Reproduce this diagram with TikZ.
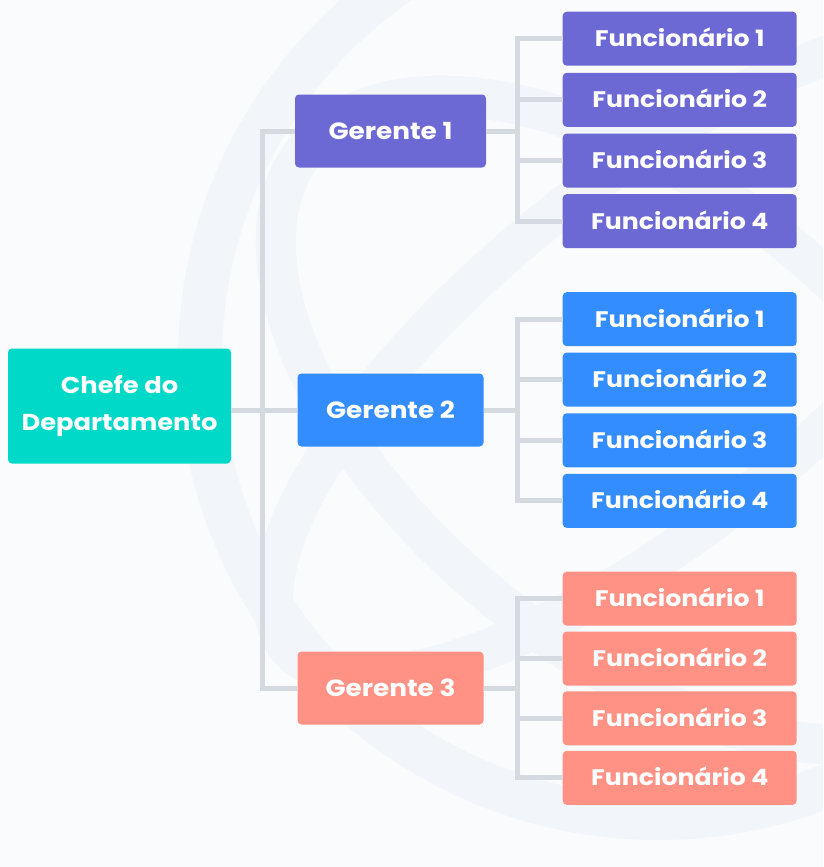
\documentclass[tikz,border=0pt]{standalone}
\usepackage{fontspec}
\setmainfont{Poppins}[FakeStretch=1.12]
\begin{document}
\begin{tikzpicture}[x=1pt,y=-1pt]
  % palette
  \definecolor{pagebg}{RGB}{250,251,253}
  \definecolor{emblem}{RGB}{242,245,250}
  \definecolor{wire}{RGB}{212,218,224}
  \definecolor{headcol}{RGB}{0,217,200}
  \definecolor{teamA}{RGB}{108,105,212}
  \definecolor{teamB}{RGB}{51,141,255}
  \definecolor{teamC}{RGB}{255,146,132}
  \tikzset{
    box/.style={rectangle, rounded corners=4pt, inner sep=0pt, text=white},
    headbox/.style={box, fill=headcol, minimum width=223pt, minimum height=115pt,
      align=center, font=\bfseries\fontsize{23}{36.7}\selectfont},
    mgrbox/.style={box, minimum width=186pt, minimum height=73pt,
      text height=16.5pt, text depth=0pt,
      font=\bfseries\fontsize{23.5}{28}\selectfont},
    empbox/.style={box, minimum width=234pt, minimum height=54pt,
      text height=15.7pt, text depth=0pt,
      font=\bfseries\fontsize{22.5}{27}\selectfont},
    link/.style={draw=wire, line width=5pt},
  }
  % page
  \fill[pagebg] (0,0) rectangle (823,867);
  \useasboundingbox (0,0) rectangle (823,867);
  % faint emblem behind the chart: an outer ring and two crossing orbits
  \begin{scope}
    \clip (0,0) rectangle (823,867);
    \draw[emblem, line width=44pt] (658,360) circle (458);
    \draw[emblem, line width=40pt, rotate around={39:(650,355)}] (650,355) ellipse (465 and 170);
    \draw[emblem, line width=40pt, rotate around={-39:(640,420)}] (640,420) ellipse (430 and 230);
  \end{scope}

  % bus junction points
  \coordinate (hub) at (262.5,410);
  \coordinate (bus) at (517.5,410);

  % nodes
  \node[headbox] (chefe) at (119.5,406) {Chefe do\\Departamento};
  \node[mgrbox, fill=teamA, minimum width=191pt] (g1) at (390.5,131) {Gerente 1};
  \node[mgrbox, fill=teamB] (g2) at (390.5,410) {Gerente 2};
  \node[mgrbox, fill=teamC] (g3) at (390.5,688) {Gerente 3};

  \foreach \i/\y in {1/38.7,2/99.8,3/160.5,4/221.2}
    \node[empbox, fill=teamA] (a\i) at (679.7,\y) {Funcionário \i};
  \foreach \i/\y in {1/319.2,2/379.5,3/440.3,4/500.8}
    \node[empbox, fill=teamB] (b\i) at (679.7,\y) {Funcionário \i};
  \foreach \i/\y in {1/598.7,2/658.5,3/718.3,4/777.8}
    \node[empbox, fill=teamC] (c\i) at (679.7,\y) {Funcionário \i};

  % connectors
  \draw[link] (chefe.east |- hub) -- (g2.west);
  \draw[link] (g1.west) -| (hub |- g3.west) -- (g3.west);
  \foreach \g/\t in {g1/a, g2/b, g3/c} {
    \draw[link] (\g.east) -- (\g.east -| bus);
    \draw[link] (\t1.west) -| (bus |- \t4.west) -- (\t4.west);
    \draw[link] (\t2.west) -- (bus |- \t2.west);
    \draw[link] (\t3.west) -- (bus |- \t3.west);
  }
\end{tikzpicture}
\end{document}
